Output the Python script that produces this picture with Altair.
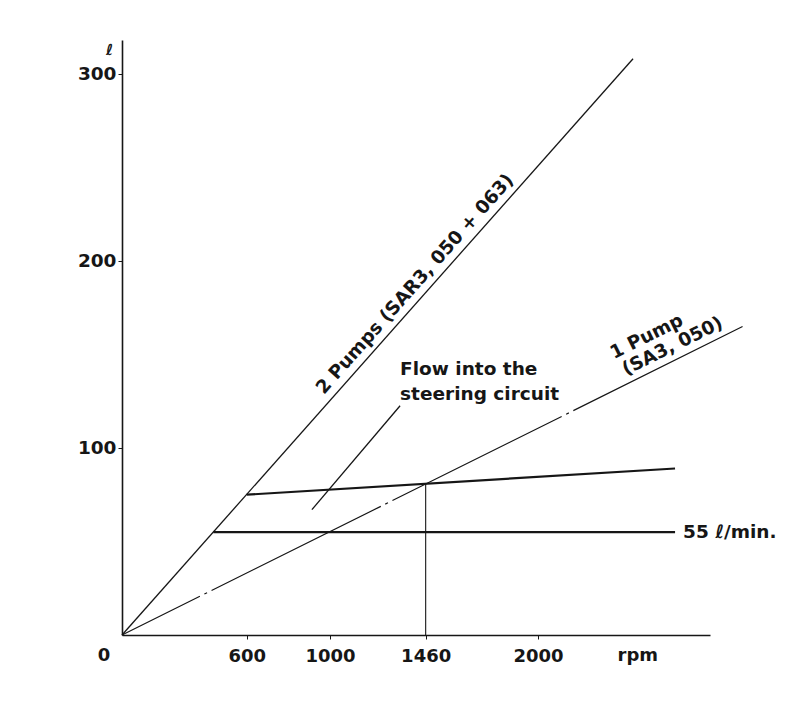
import altair as alt
import pandas as pd

# ---- data (rpm, flow in litres/min) ----
pump2_rpm = [0, 2457]
pump2_flow = [0, 308]
pump1_rpm = [0, 2986]
pump1_flow = [0, 165]
steer_rpm = [600, 2659]
steer_flow = [75, 89]
min_rpm = [439, 2659]
min_flow = [55, 55]
marker_rpm = [1460, 1460]
marker_flow = [0, 80.8]
leader_rpm = [913, 1337]
leader_flow = [67, 122.5]

x_ticks = [600, 1000, 1460, 2000]
y_ticks = [100, 200, 300]
X_MAX = 2827
Y_MAX = 318

FONT = "DejaVu Sans"
INK = "#161616"
FS = 18.5

xs = alt.Scale(domain=[0, X_MAX], nice=False, zero=False)
ys = alt.Scale(domain=[0, Y_MAX], nice=False, zero=False)

x_axis = alt.Axis(
    values=x_ticks, format="d", title=None, grid=False, labelFont=FONT, labelFontSize=18,
    labelFontWeight="bold", labelColor=INK, tickSize=4, tickColor=INK,
    domainColor=INK, domainWidth=1.6, labelPadding=8, labelFlush=False,
)
y_axis = alt.Axis(
    values=y_ticks, format="d", title="ℓ", titleAngle=0, titleX=-13, titleY=9,
    titleAlign="center", titleBaseline="middle", titleFont=FONT,
    titleFontSize=15, titleFontWeight="bold", titleColor=INK, grid=False,
    labelFont=FONT, labelFontSize=18.5, labelFontWeight="bold", labelColor=INK,
    tickSize=4, tickColor=INK, domainColor=INK, domainWidth=1.6, labelPadding=2,
)


def enc(chart):
    return chart.encode(
        x=alt.X("rpm:Q", scale=xs, axis=x_axis),
        y=alt.Y("flow:Q", scale=ys, axis=y_axis),
    )


def seg(rpm, flow, **mk):
    df = pd.DataFrame({"rpm": rpm, "flow": flow})
    return enc(alt.Chart(df).mark_line(color=INK, **mk))


def label(rpm, flow, text, **mk):
    df = pd.DataFrame({"rpm": [rpm], "flow": [flow], "t": [text]})
    return enc(
        alt.Chart(df).mark_text(font=FONT, fontWeight="bold", color=INK, **mk)
    ).encode(text="t:N")


layers = [
    seg(pump2_rpm, pump2_flow, strokeWidth=1.3),
    seg(pump1_rpm, pump1_flow, strokeWidth=1.2, strokeDash=[189, 5, 3, 5], strokeDashOffset=102),
    seg(steer_rpm, steer_flow, strokeWidth=2.2),
    seg(min_rpm, min_flow, strokeWidth=2.2),
    seg(marker_rpm, marker_flow, strokeWidth=1.1),
    seg(leader_rpm, leader_flow, strokeWidth=1.3),
    label(1000, 125.4, "2 Pumps  (SAR3, 050 + 063)", angle=311.6, align="left",
          baseline="bottom", dy=-4, fontSize=FS),
    label(2440, 134.8, "(SA3, 050)", angle=333.6, align="left",
          baseline="bottom", dy=-4, fontSize=FS),
    label(2425, 134.0, "1 Pump", angle=333.6, align="left",
          baseline="bottom", dy=-24, fontSize=FS),
    label(1337, 142, ["Flow into the", "steering circuit"], align="left",
          baseline="middle", fontSize=FS, lineHeight=25),
    label(2659, 55, "55 ℓ/min.", align="left", baseline="middle", dx=8, fontSize=FS),
    label(0, 0, "0", align="center", baseline="middle", dx=-18, dy=21, fontSize=18),
    label(2480, 0, "rpm", align="center", baseline="middle", dy=21, fontSize=18),
]

chart = alt.layer(*layers).properties(
    width=588,
    height=595,
    autosize=alt.AutoSizeParams(type="none"),
    padding={"left": 114, "top": 32, "right": 91, "bottom": 53},
    background="white",
).configure_view(stroke=None)

chart.save("out.html", embed_options={"renderer": "svg", "actions": False})
